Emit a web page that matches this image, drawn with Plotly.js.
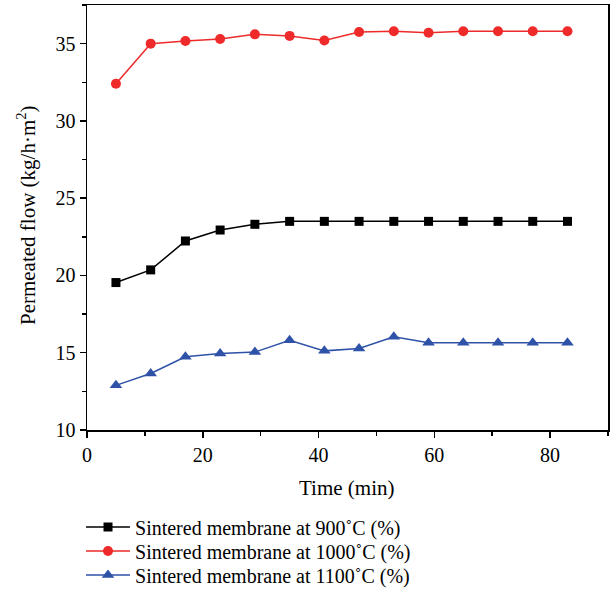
<!DOCTYPE html>
<html>
<head>
<meta charset="utf-8">
<script src="https://cdn.plot.ly/plotly-3.0.1.min.js"></script>
<style>html,body{margin:0;padding:0;background:#fff;}</style>
</head>
<body>
<div id="chart" style="width:610px;height:595px;"></div>
<script>
const time = [5, 11, 17, 23, 29, 35, 41, 47, 53, 59, 65, 71, 77, 83];
const flow900 = [19.54, 20.36, 22.23, 22.94, 23.31, 23.5, 23.5, 23.5, 23.5, 23.5, 23.5, 23.5, 23.5, 23.5];
const flow1000 = [32.4, 35.0, 35.17, 35.3, 35.6, 35.5, 35.2, 35.75, 35.8, 35.7, 35.8, 35.8, 35.8, 35.8];
const flow1100 = [12.89, 13.66, 14.74, 14.95, 15.04, 15.81, 15.12, 15.28, 16.03, 15.64, 15.64, 15.64, 15.64, 15.64];
const seriesNames = [
  'Sintered membrane at 900˚C (%)',
  'Sintered membrane at 1000˚C (%)',
  'Sintered membrane at 1100˚C (%)'
];
const xTitle = 'Time (min)';
const yTitle = 'Permeated flow (kg/h·m<sup>2</sup>)';

const fam = '"Liberation Serif", "DejaVu Serif", serif';
const font = {family: fam, size: 20, color: '#000'};
const titleFont = {family: fam, size: 21, color: '#000'};
const legendFont = {family: fam, size: 20, color: '#000'};

const traces = [
  {x: time, y: flow900, name: seriesNames[0], mode: 'lines+markers', legend: 'legend',
   line: {color: '#000000', width: 1.5},
   marker: {symbol: 'square', size: 9, color: '#000000'}},
  {x: time, y: flow1000, name: seriesNames[1], mode: 'lines+markers', legend: 'legend2',
   line: {color: '#EE2A2A', width: 1.5},
   marker: {symbol: 'circle', size: 10, color: '#EE2A2A'}},
  {x: time, y: flow1100, name: seriesNames[2], mode: 'lines+markers', legend: 'legend3',
   line: {color: '#2E52A8', width: 1.5},
   marker: {symbol: 'triangle-up', size: 11, color: '#2E52A8'}}
];

const axisCommon = {
  showline: true, linecolor: '#000', linewidth: 1.5, mirror: true,
  ticks: 'outside', ticklen: 6, tickwidth: 1.5, tickcolor: '#000',
  showgrid: false, zeroline: false, tickfont: font, automargin: false,
  minor: {ticks: 'outside', ticklen: 4, tickwidth: 1.5, tickcolor: '#000', showgrid: false}
};

function legendAt(yCenter) {
  return {
    xref: 'container', yref: 'container',
    x: 0.1328, y: 1 - yCenter / 595, xanchor: 'left', yanchor: 'middle',
    font: legendFont, bgcolor: 'rgba(0,0,0,0)', itemwidth: 44
  };
}

const layout = {
  width: 610, height: 595,
  margin: {l: 87, r: 2, t: 5, b: 165, autoexpand: false},
  paper_bgcolor: '#fff', plot_bgcolor: '#fff',
  font: font,
  xaxis: Object.assign({}, axisCommon, {
    range: [0, 90], tick0: 0, dtick: 20,
    minor: Object.assign({}, axisCommon.minor, {dtick: 10})
  }),
  yaxis: Object.assign({}, axisCommon, {
    range: [10, 37.5], tick0: 10, dtick: 5,
    minor: Object.assign({}, axisCommon.minor, {dtick: 2.5})
  }),
  annotations: [
    {text: xTitle, xref: 'paper', yref: 'paper', x: 0.499, y: -0.1365,
     xanchor: 'center', yanchor: 'middle', showarrow: false, font: titleFont},
    {text: yTitle, xref: 'paper', yref: 'paper', x: -0.115, y: 0.506,
     xanchor: 'center', yanchor: 'middle', textangle: -90, showarrow: false, font: titleFont}
  ],
  showlegend: true,
  legend: legendAt(527),
  legend2: legendAt(551),
  legend3: legendAt(575)
};

Plotly.newPlot('chart', traces, layout, {displayModeBar: false, staticPlot: true});
</script>
</body>
</html>
